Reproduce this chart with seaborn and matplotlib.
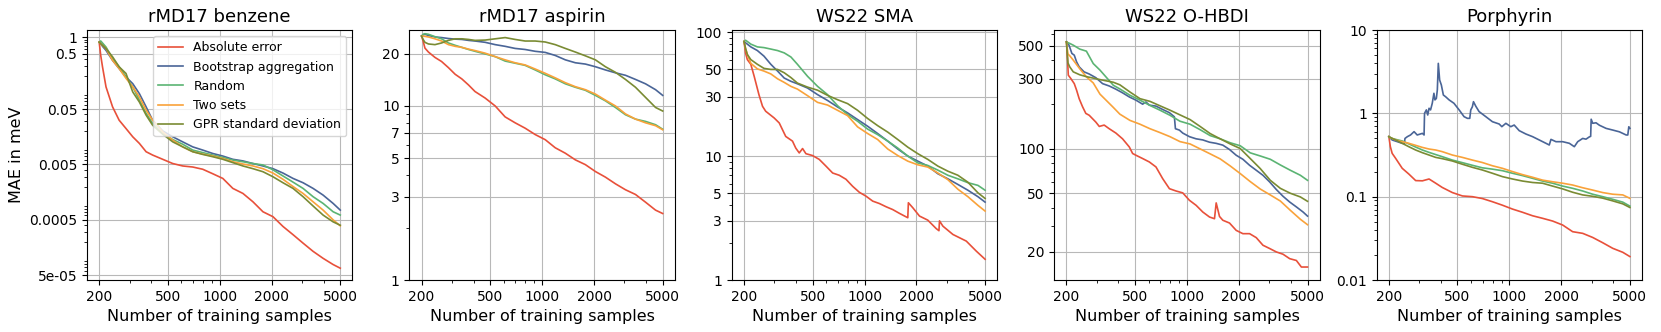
import matplotlib
matplotlib.use("Agg")
import matplotlib.pyplot as plt
from matplotlib.ticker import FixedLocator, NullFormatter, LogLocator
import seaborn as sns
import pandas as pd

# shared sample grid (number of training samples)
n_grid = [200, 204, 209, 219, 239, 261, 286, 313, 342, 374, 408, 467, 534, 610, 697,
          797, 911, 1042, 1191, 1363, 1558, 1781, 2036, 2327, 2661, 3042, 3478, 3976, 4546, 5000]

methods = ["Absolute error", "Bootstrap aggregation", "Random", "Two sets", "GPR standard deviation"]
colors = ["#E8503A", "#4A6597", "#5BB473", "#F9A23A", "#7A8B33"]

# rMD17 benzene
benzene_abs = [0.81, 0.47, 0.29, 0.126, 0.055, 0.0315, 0.0223, 0.0158, 0.0120, 0.0085, 0.0074, 0.0062,
               0.0052, 0.0047, 0.0045, 0.0041, 0.0034, 0.0028, 0.00185, 0.0015, 0.00106, 0.00070,
               0.00057, 0.00038, 0.00027, 0.00019, 0.000135, 0.000101, 7.8e-5, 6.7e-5]
benzene_bag = [0.81, 0.76, 0.68, 0.575, 0.38, 0.27, 0.19, 0.144, 0.095, 0.055, 0.0315, 0.0202, 0.0158,
               0.0128, 0.0104, 0.0091, 0.0079, 0.0071, 0.0062, 0.0058, 0.0052, 0.0047, 0.0042, 0.0035,
               0.0028, 0.00234, 0.00185, 0.0014, 0.00099, 0.00075]
benzene_rand = [0.81, 0.85, 0.78, 0.66, 0.41, 0.29, 0.19, 0.126, 0.072, 0.042, 0.0274, 0.0181, 0.0141,
                0.0116, 0.0091, 0.0082, 0.0074, 0.0067, 0.0060, 0.0056, 0.0052, 0.0049, 0.0040, 0.0031,
                0.0024, 0.00185, 0.00131, 0.00099, 0.00070, 0.00061]
benzene_two = [0.81, 0.76, 0.71, 0.62, 0.38, 0.27, 0.18, 0.126, 0.083, 0.048, 0.0315, 0.0194, 0.0137,
               0.0104, 0.0085, 0.0077, 0.0071, 0.0064, 0.0056, 0.0051, 0.0047, 0.0042, 0.0035, 0.0027,
               0.0020, 0.0015, 0.00106, 0.00075, 0.00050, 0.00039]
benzene_gpr = [0.81, 0.76, 0.71, 0.62, 0.44, 0.29, 0.22, 0.102, 0.067, 0.039, 0.0256, 0.0176, 0.0128,
               0.0104, 0.0085, 0.0076, 0.0069, 0.0062, 0.0054, 0.0047, 0.0042, 0.0037, 0.0030, 0.00234,
               0.00185, 0.00131, 0.00089, 0.00061, 0.00046, 0.00040]

# rMD17 aspirin
aspirin_abs = [25.2, 23.6, 21.5, 20.4, 19.0, 18.0, 16.6, 15.2, 14.3, 13.2, 12.1, 11.1, 10.0, 8.65, 8.0,
               7.45, 6.85, 6.4, 5.75, 5.35, 4.9, 4.6, 4.2, 3.9, 3.57, 3.3, 3.1, 2.8, 2.52, 2.41]
aspirin_bag = [25.2, 25.6, 25.8, 25.4, 24.9, 24.7, 24.4, 24.2, 24.1, 23.8, 23.6, 23.2, 22.5, 22.0, 21.4,
               21.1, 20.6, 20.3, 19.5, 18.4, 17.7, 17.4, 16.8, 16.1, 15.5, 15.0, 14.2, 13.4, 12.4, 11.5]
aspirin_rand = [25.2, 25.8, 26.0, 25.8, 25.0, 24.3, 23.0, 22.3, 21.7, 21.1, 20.6, 19.9, 19.2, 18.1, 17.6,
                17.1, 16.1, 15.1, 14.3, 13.4, 12.8, 12.3, 11.5, 10.7, 9.8, 8.9, 8.4, 8.15, 7.8, 7.35]
aspirin_two = [25.2, 25.2, 25.1, 24.9, 24.3, 23.6, 22.5, 22.0, 21.7, 21.2, 20.8, 20.1, 19.2, 18.4, 17.7,
               17.2, 16.3, 15.4, 14.5, 13.6, 12.9, 12.4, 11.7, 10.8, 10.0, 9.0, 8.4, 8.0, 7.7, 7.3]
aspirin_gpr = [25.2, 24.1, 23.2, 22.7, 22.5, 23.0, 23.8, 24.3, 24.3, 24.1, 23.8, 23.9, 24.3, 24.7, 24.1,
               23.6, 23.6, 23.3, 22.5, 21.4, 20.4, 19.4, 18.4, 16.8, 15.6, 14.2, 12.8, 11.2, 9.8, 9.35]

# WS22 SMA
sma_abs_n = [200, 204, 209, 219, 229, 244, 256, 267, 299, 320, 349, 382, 399, 418, 437, 457, 499, 546,
             597, 653, 713, 780, 853, 933, 1019, 1115, 1219, 1333, 1457, 1593, 1781, 1795, 1904, 2082,
             2327, 2602, 2700, 2720, 2846, 3254, 3890, 4446, 5000]
sma_abs = [84, 68, 60, 55, 44, 31.3, 25.2, 23.0, 20.3, 18.5, 14.4, 13.2, 11.6, 10.6, 11.5, 10.45, 10.1,
           9.4, 8.3, 7.3, 7.0, 6.5, 5.7, 5.1, 4.75, 4.33, 4.14, 3.9, 3.7, 3.45, 3.18, 4.2, 3.83, 3.28,
           3.04, 2.6, 2.5, 3.0, 2.72, 2.33, 2.06, 1.71, 1.47]
sma_bag = [84, 82, 80, 76, 71, 64, 55, 48.5, 42.6, 40.1, 38.3, 35.4, 31.3, 28.1, 24.9, 22.3, 19.7, 17.4,
           15.2, 13.2, 11.4, 10.0, 9.1, 8.3, 7.2, 6.55, 5.9, 5.3, 4.7, 4.25]
sma_rand = [84, 86, 84, 80, 76, 75, 73, 71, 68, 63, 55, 44, 36.5, 31.3, 25.5, 21.6, 19.1, 16.5, 14.9,
            13.2, 11.6, 10.0, 8.8, 8.4, 7.7, 7.0, 6.55, 6.1, 5.8, 5.3]
sma_two = [84, 74, 66, 56, 50.5, 48.5, 46, 42, 39.3, 36.5, 34.7, 30.7, 27.1, 25.8, 23.4, 21.2, 17.2,
           15.2, 13.6, 11.4, 10.1, 9.1, 8.5, 8.15, 7.3, 6.45, 5.4, 4.7, 4.0, 3.6]
sma_gpr = [84, 74, 66, 60, 55, 51, 50, 50, 47, 43, 38.8, 36, 34, 30.9, 28.5, 26.5, 23.4, 20.1, 17.6,
           15.6, 13.6, 11.8, 10.45, 9.4, 8.3, 7.55, 7.0, 6.15, 5.05, 4.55]

# WS22 O-HBDI
hbdi_abs_n = [200, 203, 205, 212, 222, 229, 237, 248, 259, 271, 296, 310, 331, 354, 387, 423, 463, 484,
              506, 553, 605, 661, 723, 791, 864, 945, 1033, 1130, 1235, 1351, 1444, 1477, 1544, 1614,
              1765, 1930, 2110, 2307, 2522, 2758, 3015, 3297, 3605, 3942, 4309, 4606, 5000]
hbdi_abs = [532, 400, 316, 300, 277, 250, 219, 193, 174, 169, 152, 142, 145, 137, 128, 117, 103, 93,
            90.5, 86, 81.5, 75.4, 62.8, 53.7, 51.8, 50.3, 44.8, 41.4, 37.3, 34.5, 33.6, 43, 34.8, 32.8,
            31.4, 28.0, 26.6, 26.6, 25.0, 22.2, 21.1, 20.0, 19.3, 18.0, 17.5, 15.8, 15.8]
hbdi_bag_n = [200, 207, 215, 222, 229, 237, 253, 271, 296, 324, 354, 387, 423, 463, 506, 553, 578, 605,
              661, 723, 791, 845, 857, 904, 945, 1033, 1130, 1235, 1351, 1477, 1614, 1765, 1930, 2110,
              2307, 2522, 2758, 3015, 3297, 3605, 3942, 4309, 4712, 5000]
hbdi_bag = [532, 505, 444, 432, 389, 360, 333, 322, 304, 277, 267, 254, 240, 225, 214, 201, 208, 198,
            195, 185, 176, 165, 137, 134, 128, 121, 117, 115, 111, 109, 106, 99, 90.5, 85, 77.4, 71.6,
            66.2, 59.7, 53, 47.7, 43.6, 40.4, 37.3, 35]
hbdi_rand = [532, 525, 519, 505, 475, 460, 379, 342, 304, 270, 255, 231, 214, 197, 183, 169, 154, 147,
             135, 123, 117, 110, 105, 94, 89.5, 85, 77.8, 71.6, 66.2, 61.2]
hbdi_two = [532, 440, 428, 400, 349, 308, 280, 235, 212, 191, 172, 156, 147, 137, 129, 121, 112, 108,
            100, 92.5, 85.5, 76.6, 68, 60, 53.4, 48.7, 44.3, 38.3, 33.3, 30.6]
hbdi_gpr = [532, 383, 360, 333, 318, 309, 302, 295, 289, 283, 272, 243, 219, 210, 196, 183, 170, 158,
            142, 127, 117, 108, 100.5, 86, 73.5, 61.2, 54, 50, 47.2, 44.1]

# Porphyrin
porph_abs = [0.525, 0.398, 0.331, 0.288, 0.219, 0.187, 0.156, 0.155, 0.163, 0.145, 0.129, 0.112, 0.102,
             0.100, 0.095, 0.087, 0.079, 0.071, 0.065, 0.059, 0.055, 0.051, 0.0457, 0.038, 0.0363,
             0.0324, 0.0280, 0.0240, 0.0215, 0.0191]
porph_bag_n = [200, 209, 224, 239, 246, 248, 256, 267, 280, 292, 313, 320, 322, 330, 336, 342, 349, 357,
               365, 370, 377, 382, 387, 394, 403, 414, 427, 447, 477, 511, 546, 571, 589, 597, 610, 619,
               638, 667, 730, 797, 872, 904, 954, 1019, 1066, 1140, 1246, 1363, 1490, 1629, 1703, 1742,
               1862, 2036, 2226, 2380, 2490, 2661, 2782, 2900, 2960, 2980, 3042, 3181, 3327, 3637, 3976,
               4347, 4754, 4860, 4926, 5000]
porph_bag = [0.525, 0.479, 0.457, 0.437, 0.437, 0.50, 0.525, 0.55, 0.603, 0.55, 0.575, 0.55, 1.0, 1.10,
             0.955, 1.15, 1.10, 1.32, 1.74, 1.45, 1.51, 1.91, 3.98, 2.51, 2.19, 1.66, 1.58, 1.45, 1.32,
             1.10, 0.912, 0.871, 0.871, 1.10, 1.20, 1.38, 1.22, 1.05, 0.912, 0.794, 0.745, 0.692, 0.759,
             0.692, 0.724, 0.62, 0.565, 0.525, 0.479, 0.437, 0.417, 0.487, 0.457, 0.457, 0.437, 0.398,
             0.457, 0.50, 0.49, 0.52, 0.53, 0.85, 0.76, 0.77, 0.72, 0.66, 0.63, 0.60, 0.55, 0.55, 0.69,
             0.66]
porph_rand = [0.525, 0.51, 0.50, 0.487, 0.466, 0.43, 0.394, 0.363, 0.34, 0.32, 0.302, 0.275, 0.256,
              0.238, 0.222, 0.214, 0.205, 0.191, 0.179, 0.166, 0.154, 0.145, 0.134, 0.126, 0.117, 0.107,
              0.100, 0.093, 0.086, 0.077]
porph_two = [0.525, 0.51, 0.50, 0.479, 0.457, 0.437, 0.413, 0.39, 0.373, 0.363, 0.347, 0.316, 0.296,
             0.275, 0.257, 0.235, 0.219, 0.200, 0.184, 0.171, 0.158, 0.151, 0.145, 0.138, 0.128, 0.120,
             0.112, 0.107, 0.105, 0.0955]
porph_gpr = [0.525, 0.515, 0.50, 0.479, 0.437, 0.398, 0.363, 0.337, 0.316, 0.296, 0.286, 0.268, 0.245,
             0.225, 0.209, 0.191, 0.174, 0.163, 0.154, 0.148, 0.145, 0.134, 0.124, 0.113, 0.105, 0.101,
             0.096, 0.089, 0.082, 0.0741]

panels = [
    ("rMD17 benzene",
     [(n_grid, benzene_abs), (n_grid, benzene_bag), (n_grid, benzene_rand), (n_grid, benzene_two), (n_grid, benzene_gpr)],
     [1, 0.5, 0.05, 0.005, 0.0005, 5e-05], ["1", "0.5", "0.05", "0.005", "0.0005", "5e-05"], (4.1e-5, 1.34)),
    ("rMD17 aspirin",
     [(n_grid, aspirin_abs), (n_grid, aspirin_bag), (n_grid, aspirin_rand), (n_grid, aspirin_two), (n_grid, aspirin_gpr)],
     [1, 3, 5, 7, 10, 20], ["1", "3", "5", "7", "10", "20"], (1, 27.3)),
    ("WS22 SMA",
     [(sma_abs_n, sma_abs), (n_grid, sma_bag), (n_grid, sma_rand), (n_grid, sma_two), (n_grid, sma_gpr)],
     [1, 3, 5, 10, 30, 50, 100], ["1", "3", "5", "10", "30", "50", "100"], (1, 104)),
    ("WS22 O-HBDI",
     [(hbdi_abs_n, hbdi_abs), (hbdi_bag_n, hbdi_bag), (n_grid, hbdi_rand), (n_grid, hbdi_two), (n_grid, hbdi_gpr)],
     [20, 50, 100, 300, 500], ["20", "50", "100", "300", "500"], (12.9, 640)),
    ("Porphyrin",
     [(n_grid, porph_abs), (porph_bag_n, porph_bag), (n_grid, porph_rand), (n_grid, porph_two), (n_grid, porph_gpr)],
     [0.01, 0.1, 1, 10], ["0.01", "0.1", "1", "10"], (0.01, 10)),
]

fig, axes = plt.subplots(1, 5, figsize=(16.61, 3.32), dpi=100)
fig.subplots_adjust(left=0.0524, right=0.9886, bottom=0.1566, top=0.9096, wspace=0.215)

for i, (ax, (title, curves, yt, ytl, ylim)) in enumerate(zip(axes, panels)):
    for (n, mae), name, c in zip(curves, methods, colors):
        df = pd.DataFrame({"n": n, "mae": mae})
        sns.lineplot(data=df, x="n", y="mae", ax=ax, color=c, lw=1.2, label=name if i == 0 else None)
    ax.set_xscale("log")
    ax.set_yscale("log")
    ax.set_xlim(170, 5880)
    ax.set_ylim(*ylim)
    ax.xaxis.set_major_locator(FixedLocator([200, 500, 1000, 2000, 5000]))
    ax.set_xticklabels(["200", "500", "1000", "2000", "5000"])
    ax.xaxis.set_minor_locator(LogLocator(base=10, subs=range(2, 10)))
    ax.xaxis.set_minor_formatter(NullFormatter())
    ax.yaxis.set_major_locator(FixedLocator(yt))
    ax.set_yticklabels(ytl)
    ax.yaxis.set_minor_locator(LogLocator(base=10, subs=range(2, 10), numticks=20))
    ax.yaxis.set_minor_formatter(NullFormatter())
    ax.tick_params(labelsize=10)
    ax.grid(True, which="major", color="#b8b8b8", lw=0.8)
    ax.set_title(title, fontsize=13)
    ax.set_xlabel("Number of training samples", fontsize=11.5)
    ax.set_ylabel("MAE in meV" if i == 0 else "", fontsize=11.5)
    if i == 0:
        ax.legend(loc="upper right", fontsize=9)
    else:
        leg = ax.get_legend()
        if leg:
            leg.remove()

plt.savefig("out.png", dpi=100)
